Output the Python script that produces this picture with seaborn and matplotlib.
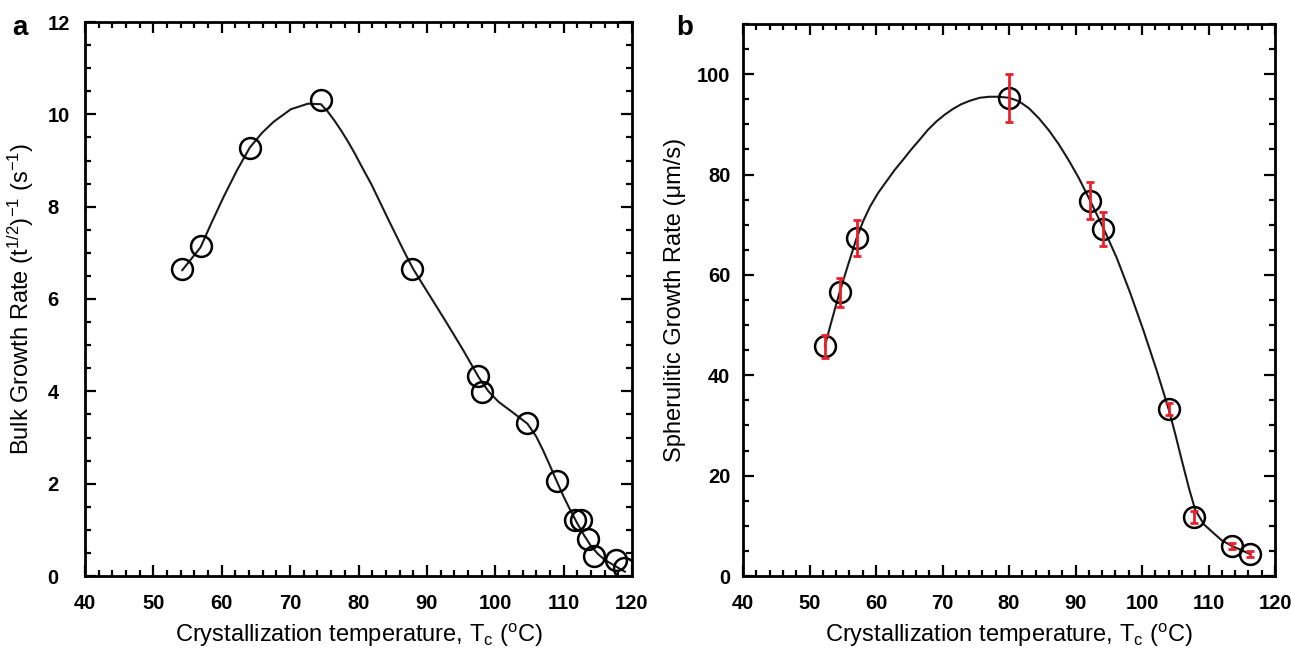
import matplotlib
matplotlib.use("Agg")
import matplotlib.pyplot as plt
from matplotlib.ticker import MultipleLocator
import seaborn as sns
import pandas as pd

# ---------------- data ----------------
# panel a: bulk growth rate
bulk_T = [54.2, 56.9, 64.1, 74.5, 87.8, 97.5, 98.1, 104.7, 109.0, 111.7, 112.6, 113.6, 114.4, 117.6, 118.8]
bulk_rate = [6.65, 7.15, 9.28, 10.32, 6.65, 4.33, 3.98, 3.32, 2.05, 1.22, 1.22, 0.81, 0.44, 0.35, 0.18]
bulk_fit_T = [54.2, 56.9, 58.5, 60.3, 62.2, 64.1, 65.9, 67.6, 70.1, 72.6, 74.5, 75.5, 76.5,
              77.5, 78.5, 79.5, 80.5, 81.9, 83.2, 84.4, 85.6, 86.8, 88.0, 90.3, 92.7,
              95.2, 97.6, 99.0, 100.5, 102.5, 104.7, 106.0, 107.0, 108.0, 109.0, 110.0,
              111.0, 112.0, 113.0, 114.0, 115.0, 116.0, 117.5, 119.0]
bulk_fit_rate = [6.62, 7.12, 7.65, 8.22, 8.78, 9.28, 9.60, 9.84, 10.11, 10.23, 10.22, 10.06, 9.86,
                 9.64, 9.40, 9.14, 8.86, 8.48, 8.08, 7.71, 7.35, 6.99, 6.65, 6.10, 5.53,
                 4.92, 4.30, 4.00, 3.77, 3.55, 3.30, 3.02, 2.72, 2.39, 2.05, 1.72,
                 1.42, 1.14, 0.88, 0.65, 0.48, 0.35, 0.22, 0.09]

# panel b: spherulitic growth rate
sph_T = [52.3, 54.6, 57.1, 80.0, 92.2, 94.2, 104.0, 107.8, 113.5, 116.3]
sph_rate = [45.8, 56.5, 67.4, 95.3, 74.8, 69.2, 33.3, 11.7, 6.0, 4.4]
sph_err = [2.3, 2.9, 3.6, 4.8, 3.7, 3.4, 1.2, 1.2, 0.6, 0.6]
sph_fit_T = [52.3, 53.4, 54.5, 55.8, 57.1, 58.1, 59.1, 60.3, 61.6, 62.8, 64.1, 65.3, 66.6,
             67.8, 69.1, 70.3, 71.6, 72.8, 74.1, 75.6, 77.0, 78.5, 80.0, 81.5, 83.0,
             84.5, 86.0, 87.5, 89.0, 90.5, 92.2, 94.2, 96.2, 98.2, 100.2, 102.2, 104.0,
             105.0, 105.9, 107.1, 108.0, 109.3, 110.8, 112.0, 113.5, 116.3]
sph_fit_rate = [45.8, 51.2, 56.4, 62.0, 67.4, 70.8, 73.6, 76.3, 78.7, 80.9, 83.0, 85.0, 87.0,
                88.9, 90.6, 91.9, 93.1, 94.0, 94.7, 95.3, 95.5, 95.5, 95.3, 94.6, 93.2,
                91.2, 88.8, 86.0, 82.8, 79.3, 74.8, 69.3, 63.4, 56.5, 49.0, 41.0, 33.3,
                28.3, 23.5, 17.3, 13.2, 10.3, 8.5, 7.1, 6.0, 4.35]

x_ticks = [40, 50, 60, 70, 80, 90, 100, 110, 120]

# ---------------- style ----------------
sns.set_style("ticks")
plt.rcParams["font.family"] = ["Liberation Sans", "DejaVu Sans"]
plt.rcParams["mathtext.default"] = "regular"
plt.rcParams["text.color"] = "black"
plt.rcParams["axes.labelcolor"] = "black"

fig = plt.figure(figsize=(12.91, 6.53), dpi=100)
W, H = 1291, 653
ax_a = fig.add_axes([85 / W, (H - 576) / H, (632 - 85) / W, (576 - 22) / H])
ax_b = fig.add_axes([743 / W, (H - 576) / H, (1275 - 743) / W, (576 - 24) / H])

df_a = pd.DataFrame({"T": bulk_T, "rate": bulk_rate})
df_a_fit = pd.DataFrame({"T": bulk_fit_T, "rate": bulk_fit_rate})
df_b = pd.DataFrame({"T": sph_T, "rate": sph_rate, "err": sph_err})
df_b_fit = pd.DataFrame({"T": sph_fit_T, "rate": sph_fit_rate})

line_kw = dict(color="#1a1a1a", linewidth=1.5, sort=False, estimator=None)
mk = 15

# panel a
sns.lineplot(data=df_a_fit, x="T", y="rate", ax=ax_a, zorder=2, **line_kw)
ax_a.plot(df_a["T"], df_a["rate"], linestyle="none", marker="o", markersize=mk,
          markerfacecolor="none", markeredgecolor="black", markeredgewidth=1.8, zorder=3)

# panel b
sns.lineplot(data=df_b_fit, x="T", y="rate", ax=ax_b, zorder=2, **line_kw)
ax_b.plot(df_b["T"], df_b["rate"], linestyle="none", marker="o", markersize=mk,
          markerfacecolor="none", markeredgecolor="black", markeredgewidth=1.8, zorder=3)
ax_b.errorbar(df_b["T"], df_b["rate"], yerr=df_b["err"], fmt="none", ecolor="#e8202a",
              elinewidth=2.0, capsize=3, capthick=2.0, zorder=4)

xlabel = "Crystallization temperature, T$_c$ ($^o$C)"
for ax in (ax_a, ax_b):
    ax.set_xlim(40, 120)
    ax.set_xticks(x_ticks)
    ax.xaxis.set_minor_locator(MultipleLocator(2))
    ax.tick_params(which="both", direction="in", top=True, right=True, width=1.6,
                   colors="black", labelsize=14.5)
    ax.tick_params(which="major", length=8)
    ax.tick_params(which="minor", length=4)
    ax.tick_params(axis="x", which="major", pad=13)
    for s in ax.spines.values():
        s.set_linewidth(2.0)
        s.set_color("black")
    ax.set_xlabel(xlabel, fontsize=17, labelpad=6)

ax_a.set_ylim(0, 12)
ax_a.set_yticks([0, 2, 4, 6, 8, 10, 12])
ax_a.yaxis.set_minor_locator(MultipleLocator(0.5))
ax_a.tick_params(axis="y", which="major", pad=27)
ax_a.set_ylabel("Bulk Growth Rate (t$^{1/2}$)$^{-1}$ (s$^{-1}$)", fontsize=17, labelpad=8)

ax_b.set_ylim(0, 110)
ax_b.set_yticks([0, 20, 40, 60, 80, 100])
ax_b.yaxis.set_minor_locator(MultipleLocator(5))
ax_b.tick_params(axis="y", which="major", pad=9)
ax_b.set_ylabel("Spherulitic Growth Rate (μm/s)", fontsize=17, labelpad=8)

for ax in (ax_a, ax_b):
    for lab in ax.get_xticklabels() + ax.get_yticklabels():
        lab.set_fontweight("bold")
for lab in ax_a.get_yticklabels():
    lab.set_horizontalalignment("left")

fig.text(12 / W, 1 - 28 / H, "a", fontsize=20, fontweight="bold", va="center", ha="left")
fig.text(676 / W, 1 - 28 / H, "b", fontsize=20, fontweight="bold", va="center", ha="left")

fig.savefig("out.png", dpi=100, facecolor="white")
